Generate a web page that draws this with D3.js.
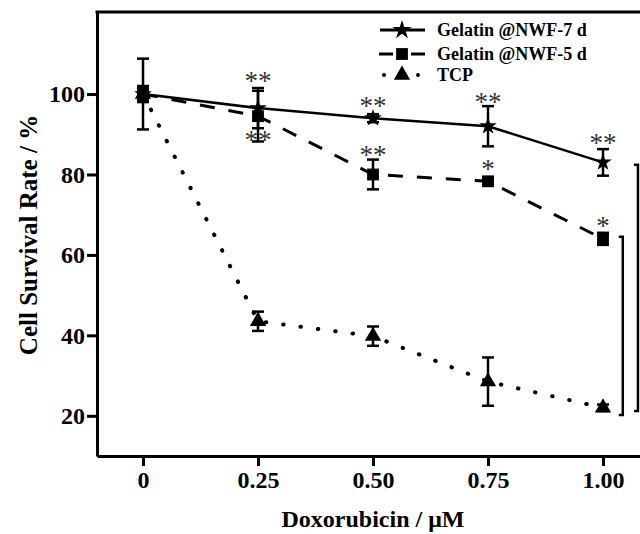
<!DOCTYPE html>
<meta charset="utf-8">
<head>
<style>
  body { margin: 0; background: #fff; }
  text { font-family: "Liberation Serif", "Times New Roman", serif; }
</style>
</head>
<script src="https://d3js.org/d3.v7.min.js"></script>
<body>
<div id="my_dataviz"></div>
<script>

// doses and series values
var doses = [0, 0.25, 0.5, 0.75, 1.0];
var xTicks = [0, 0.25, 0.5, 0.75, 1.0];
var xTickLabels = ["0", "0.25", "0.50", "0.75", "1.00"];
var yTicks = [20, 40, 60, 80, 100];

var nwf7Mean = [100, 96.5, 94, 92, 83];
var nwf7Err  = [1.5, 5, 1, 5, 3.3];
var nwf5Mean = [100, 94.5, 80, 78.3, 64];
var nwf5Err  = [2, 6.3, 3.7, 1, 1.5];
var tcpMean  = [100, 43.5, 39.8, 28.5, 22];
var tcpErr   = [8.8, 2.4, 2.4, 6, 0.8];

// significance marks (dose, value where the mark sits)
var sigDose  = [0.25, 0.5, 0.75, 1.0];
var nwf7Sig  = ["**", "**", "**", "**"];
var nwf7SigAt = [104.2, 98, 99, 88.8];
var nwf5Sig  = ["**", "**", "*", "*"];
var nwf5SigAt = [89.6, 85.8, 82.4, 68];

// comparison brackets on the right
var bracketX      = [1.043, 1.076];
var bracketTop    = [64.5, 82.4];
var bracketBottom = [20.2, 21.2];

var seriesNames = ["Gelatin @NWF-7 d", "Gelatin @NWF-5 d", "TCP"];

var width = 640, height = 534;

var svg = d3.select("#my_dataviz")
  .append("svg")
    .attr("width", width)
    .attr("height", height);

var x = d3.scaleLinear().domain([-0.1, 1.2]).range([97, 97 + 1.3 * 460]);
var y = d3.scaleLinear().domain([10, 120.4]).range([456, 12]);

// axes
var xAxis = svg.append("g")
  .attr("transform", "translate(0," + y(10) + ")")
  .call(d3.axisBottom(x).tickValues(xTicks).tickSize(10).tickSizeOuter(0).tickPadding(5)
        .tickFormat(function(d, i) { return xTickLabels[i]; }));
var yAxis = svg.append("g")
  .attr("transform", "translate(" + x(-0.1) + ",0)")
  .call(d3.axisLeft(y).tickValues(yTicks).tickSize(10).tickSizeOuter(0).tickPadding(2));

[xAxis, yAxis].forEach(function(a) {
  a.select(".domain").attr("stroke", "#000").attr("stroke-width", 3);
  a.selectAll(".tick line").attr("stroke", "#000").attr("stroke-width", 3);
  a.selectAll(".tick text")
    .attr("fill", "#000")
    .style("font-family", "'Liberation Serif', serif")
    .style("font-weight", "bold")
    .style("font-size", "24px");
});

// top frame line
svg.append("line")
  .attr("x1", x(-0.1) - 1.5).attr("x2", x(1.2))
  .attr("y1", y(120.4)).attr("y2", y(120.4))
  .attr("stroke", "#000").attr("stroke-width", 3);

// axis titles
svg.append("text")
  .attr("x", x(0.5)).attr("y", 527)
  .attr("text-anchor", "middle")
  .style("font-weight", "bold").style("font-size", "24px")
  .text("Doxorubicin / \u03bcM");

svg.append("text")
  .attr("transform", "translate(37," + 235 + ") rotate(-90)")
  .attr("text-anchor", "middle")
  .style("font-weight", "bold").style("font-size", "25px")
  .text("Cell Survival Rate / %");

var series = [
  { name: seriesNames[0], mean: nwf7Mean, err: nwf7Err, dash: null, width: 2.5, cap: "butt",
    symbol: d3.symbolStar, size: 95 },
  { name: seriesNames[1], mean: nwf5Mean, err: nwf5Err, dash: "15,14", width: 3, cap: "butt",
    symbol: d3.symbolSquare, size: 140 },
  { name: seriesNames[2], mean: tcpMean, err: tcpErr, dash: "0.5,17", width: 4, cap: "round",
    symbol: d3.symbolTriangle, size: 115 }
];

var line = d3.line()
  .x(function(d) { return x(d[0]); })
  .y(function(d) { return y(d[1]); });

// draw TCP first so the others sit on top
series.slice().reverse().forEach(function(s) {
  var pts = doses.map(function(d, i) { return [d, s.mean[i], s.err[i]]; });
  var g = svg.append("g");

  g.append("path")
    .datum(pts)
    .attr("d", line)
    .attr("fill", "none")
    .attr("stroke", "#000")
    .attr("stroke-width", s.width)
    .attr("stroke-linecap", s.cap)
    .attr("stroke-dasharray", s.dash);

  // error bars
  var eb = g.selectAll(".eb").data(pts).enter().append("g");
  eb.append("line")
    .attr("x1", function(d) { return x(d[0]); }).attr("x2", function(d) { return x(d[0]); })
    .attr("y1", function(d) { return y(d[1] - d[2]); }).attr("y2", function(d) { return y(d[1] + d[2]); })
    .attr("stroke", "#000").attr("stroke-width", 2.5);
  [-1, 1].forEach(function(sign) {
    eb.append("line")
      .attr("x1", function(d) { return x(d[0]) - 6; }).attr("x2", function(d) { return x(d[0]) + 6; })
      .attr("y1", function(d) { return y(d[1] + sign * d[2]); }).attr("y2", function(d) { return y(d[1] + sign * d[2]); })
      .attr("stroke", "#000").attr("stroke-width", 2.5);
  });

  g.selectAll(".pt").data(pts).enter().append("path")
    .attr("d", d3.symbol().type(s.symbol).size(s.size))
    .attr("transform", function(d) { return "translate(" + x(d[0]) + "," + y(d[1]) + ")"; })
    .attr("fill", "#000");
});

// significance asterisks
function addSig(labels, at) {
  svg.append("g").selectAll("text")
    .data(sigDose)
    .enter().append("text")
      .attr("x", function(d) { return x(d); })
      .attr("y", function(d, i) { return y(at[i]); })
      .attr("dy", "0.47em")
      .attr("text-anchor", "middle")
      .attr("fill", "#333")
      .style("font-size", "27px")
      .text(function(d, i) { return labels[i]; });
}
addSig(nwf7Sig, nwf7SigAt);
addSig(nwf5Sig, nwf5SigAt);

// brackets
bracketX.forEach(function(bx, i) {
  var px = x(bx);
  svg.append("path")
    .attr("d", "M" + (px - 4) + "," + y(bracketTop[i]) + "H" + px + "V" + y(bracketBottom[i]) + "H" + (px - 4))
    .attr("fill", "none").attr("stroke", "#000").attr("stroke-width", 2.5);
});

// legend
var legend = svg.append("g");
var legendY = [30, 54, 75];
series.forEach(function(s, i) {
  var row = legend.append("g").attr("transform", "translate(0," + legendY[i] + ")");
  if (i === 2) {
    [384, 418].forEach(function(dx) {
      row.append("circle").attr("cx", dx).attr("cy", 0).attr("r", 2).attr("fill", "#000");
    });
  } else if (i === 1) {
    row.append("line").attr("x1", 379).attr("x2", 393).attr("stroke", "#000").attr("stroke-width", 3);
    row.append("line").attr("x1", 411).attr("x2", 425).attr("stroke", "#000").attr("stroke-width", 3);
  } else {
    row.append("line").attr("x1", 380).attr("x2", 425).attr("stroke", "#000").attr("stroke-width", 3);
  }
  row.append("path")
    .attr("d", d3.symbol().type(s.symbol).size(s.size * (i === 0 ? 1.2 : 1)))
    .attr("transform", "translate(402,0)")
    .attr("fill", "#000");
  row.append("text")
    .attr("x", 437).attr("y", 6)
    .style("font-weight", "bold").style("font-size", "18px")
    .text(s.name);
});

</script>
</body>
